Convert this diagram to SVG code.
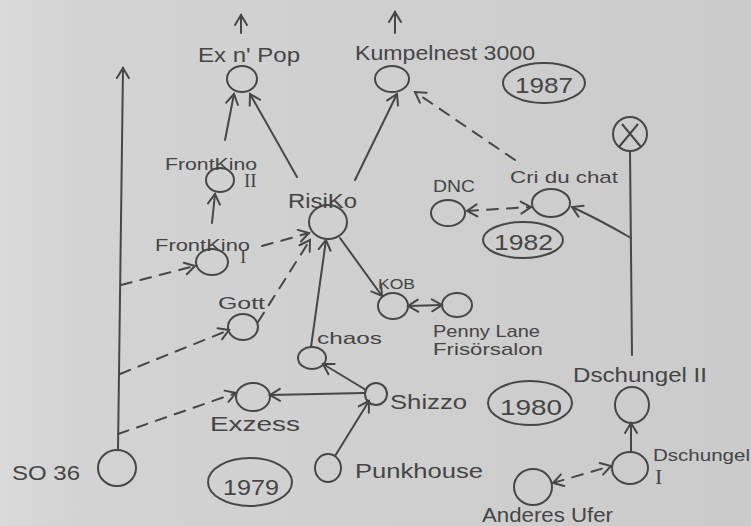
<svg xmlns="http://www.w3.org/2000/svg" width="751" height="526" viewBox="0 0 751 526">
<defs>
<linearGradient id="bg" x1="0" y1="0" x2="1" y2="0">
<stop offset="0" stop-color="#dadada"/>
<stop offset="0.1" stop-color="#d3d3d3"/>
<stop offset="1" stop-color="#cbcbcb"/>
</linearGradient>
<marker id="ah" viewBox="-12 -8 14 16" refX="0" refY="0" markerWidth="14" markerHeight="16" markerUnits="userSpaceOnUse" orient="auto-start-reverse">
<path d="M-10,-6 L0,0 L-10,6" fill="none" stroke="#474747" stroke-width="2" stroke-linecap="round"/>
</marker>
<style>
.n{fill:none;stroke:#474747;stroke-width:2}
.a{marker-end:url(#ah)}
.b{marker-start:url(#ah);marker-end:url(#ah)}
.d{stroke-dasharray:11 9}
text{font-family:"Liberation Sans","DejaVu Sans",sans-serif;fill:#454545}
.t{font-size:20px}
.s{font-size:17px}
.r{font-size:19px;font-family:"Liberation Serif","DejaVu Serif",serif}
.y{font-size:22px}
</style>
</defs>
<rect x="0" y="0" width="751" height="526" fill="url(#bg)"/>

<g id="connectors" fill="none" stroke="#474747" stroke-width="2" stroke-linecap="round">
<path class="a" d="M118,450 L123,68"/>
<path class="a" d="M241,33 L241,15"/>
<path class="a" d="M395,33 L395,12"/>
<path class="a" d="M225,140 L234,94"/>
<path class="a" d="M297,177 L250,94"/>
<path class="a" d="M355,180 L397,94"/>
<path class="a d" d="M515,160 L415,92"/>
<path d="M630,151 L632,355"/>
<path class="a" d="M631,238 Q600,220 572,207"/>
<path class="b d" d="M467,211 L531,207"/>
<path class="a" d="M212,223 L215,194"/>
<path class="a d" d="M121,285 L195,266"/>
<path class="a d" d="M262,246 L309,233"/>
<path class="a d" d="M120,374 L229,330"/>
<path class="a d" d="M258,322 L310,240"/>
<path class="a" d="M311,347 L326,240"/>
<path class="a" d="M340,238 L382,296"/>
<path class="b" d="M408,306 L442,305"/>
<path class="a" d="M366,390 L323,364"/>
<path class="a" d="M364,393 L270,395"/>
<path class="a d" d="M118,434 L236,393"/>
<path class="a" d="M335,456 L369,401"/>
<path class="a" d="M631,452 L631,423"/>
<path class="b d" d="M553,483 L611,466"/>
</g>

<g id="exnpop"><ellipse class="n" cx="242" cy="79" rx="15" ry="13"/><text class="t" x="198" y="62" textLength="102" lengthAdjust="spacingAndGlyphs">Ex n' Pop</text></g>
<g id="kumpelnest"><ellipse class="n" cx="392" cy="79" rx="17" ry="13"/><text class="t" x="355" y="60" textLength="180" lengthAdjust="spacingAndGlyphs">Kumpelnest 3000</text></g>
<g id="y1987"><ellipse class="n" cx="544" cy="83" rx="41" ry="20"/><text class="y" x="515" y="93" textLength="58" lengthAdjust="spacingAndGlyphs">1987</text></g>
<g id="end"><circle class="n" cx="630" cy="134" r="17"/><path class="n" d="M622,124 L641,147 M638,124 L619,147"/></g>
<g id="frontkino2"><ellipse class="n" cx="220" cy="180" rx="14" ry="12"/><text class="s" x="165" y="170" textLength="92" lengthAdjust="spacingAndGlyphs">FrontKino</text><text class="r" x="244" y="187">II</text></g>
<g id="risiko"><ellipse class="n" cx="328" cy="222" rx="19" ry="17"/><text class="t" x="288" y="208" textLength="69" lengthAdjust="spacingAndGlyphs">RisiKo</text></g>
<g id="dnc"><ellipse class="n" cx="448" cy="213" rx="17" ry="13"/><text class="s" x="433" y="192" textLength="42" lengthAdjust="spacingAndGlyphs">DNC</text></g>
<g id="cri"><ellipse class="n" cx="551" cy="203" rx="19" ry="14"/><text class="s" x="510" y="183" textLength="108" lengthAdjust="spacingAndGlyphs">Cri du chat</text></g>
<g id="y1982"><ellipse class="n" cx="523" cy="240" rx="40" ry="18"/><text class="y" x="494" y="250" textLength="59" lengthAdjust="spacingAndGlyphs">1982</text></g>
<g id="frontkino1"><ellipse class="n" cx="212" cy="262" rx="16" ry="13"/><text class="s" x="155" y="251" textLength="95" lengthAdjust="spacingAndGlyphs">FrontKino</text><text class="r" x="240" y="263">I</text></g>
<g id="gott"><ellipse class="n" cx="243" cy="327" rx="15" ry="13"/><text class="s" x="218" y="309" textLength="47" lengthAdjust="spacingAndGlyphs">Gott</text></g>
<g id="kob"><ellipse class="n" cx="393" cy="306" rx="15" ry="13"/><text x="378" y="289" textLength="37" lengthAdjust="spacingAndGlyphs" style="font-size:15px">KOB</text></g>
<g id="pennylane"><ellipse class="n" cx="457" cy="305" rx="15" ry="12"/><text class="s" x="433" y="337" textLength="107" lengthAdjust="spacingAndGlyphs">Penny Lane</text><text class="s" x="433" y="355" textLength="110" lengthAdjust="spacingAndGlyphs">Frisörsalon</text></g>
<g id="chaos"><ellipse class="n" cx="312" cy="358" rx="14" ry="11"/><text class="s" x="317" y="344" textLength="65" lengthAdjust="spacingAndGlyphs">chaos</text></g>
<g id="shizzo"><ellipse class="n" cx="376" cy="394" rx="11" ry="11"/><text class="t" x="390" y="409" textLength="77" lengthAdjust="spacingAndGlyphs">Shizzo</text></g>
<g id="y1980"><ellipse class="n" cx="530" cy="403" rx="42" ry="22"/><text class="y" x="500" y="415" textLength="62" lengthAdjust="spacingAndGlyphs">1980</text></g>
<g id="dschungel2"><ellipse class="n" cx="632" cy="405" rx="17" ry="18"/><text class="t" x="573" y="382" textLength="134" lengthAdjust="spacingAndGlyphs">Dschungel II</text></g>
<g id="exzess"><ellipse class="n" cx="253" cy="397" rx="17" ry="14"/><text class="t" x="210" y="431" textLength="90" lengthAdjust="spacingAndGlyphs">Exzess</text></g>
<g id="so36"><ellipse class="n" cx="117" cy="468" rx="19" ry="18"/><text class="t" x="12" y="480" textLength="68" lengthAdjust="spacingAndGlyphs">SO 36</text></g>
<g id="y1979"><ellipse class="n" cx="250" cy="482" rx="42" ry="24"/><text class="y" x="223" y="495" textLength="56" lengthAdjust="spacingAndGlyphs">1979</text></g>
<g id="punkhouse"><ellipse class="n" cx="328" cy="468" rx="13" ry="14"/><text class="t" x="355" y="478" textLength="128" lengthAdjust="spacingAndGlyphs">Punkhouse</text></g>
<g id="dschungel1"><ellipse class="n" cx="630" cy="468" rx="18" ry="16"/><text class="s" x="653" y="461" textLength="97" lengthAdjust="spacingAndGlyphs">Dschungel</text><text class="r" x="655" y="484" style="font-size:22px">I</text></g>
<g id="andersufer"><ellipse class="n" cx="533" cy="487" rx="19" ry="18"/><text class="t" x="482" y="522" textLength="131" lengthAdjust="spacingAndGlyphs">Anderes Ufer</text></g>
</svg>
